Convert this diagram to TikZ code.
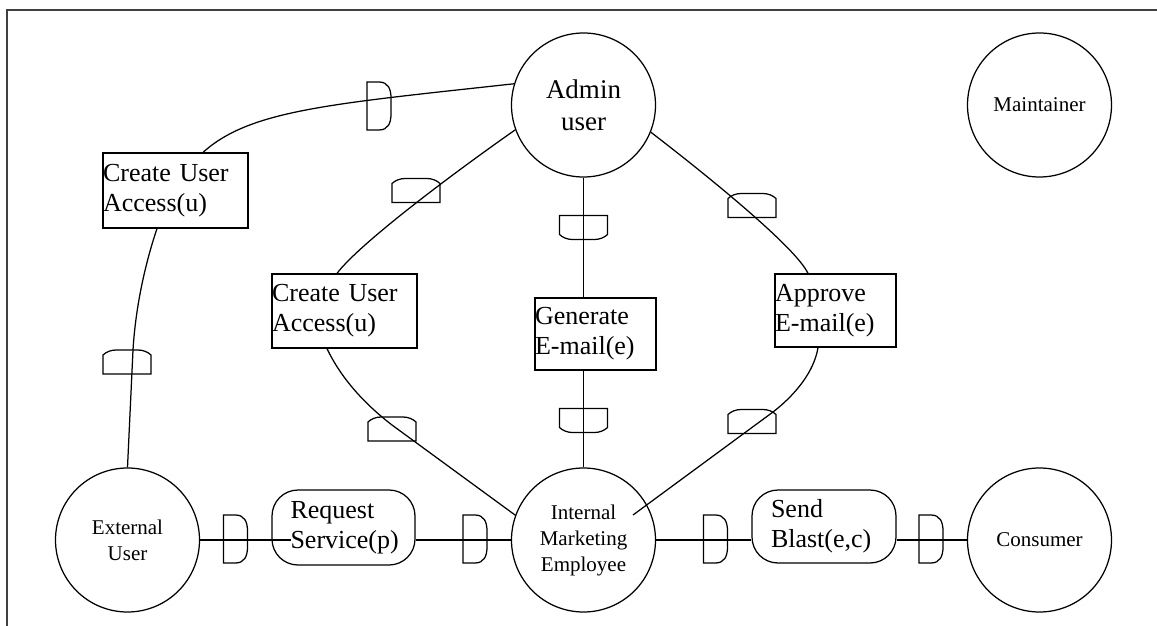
\documentclass[tikz,border=0pt]{standalone}
\usepackage{fontspec}
\setmainfont{Liberation Serif}

\tikzset{
  % D-shaped port: flat side left, rounded side right (length 48, depth 24)
  tokD/.pic={\draw (-12,-24) -- (0,-24) .. controls (9,-24) and (12,-17) .. (12,-8)
     -- (12,8) .. controls (12,17) and (9,24) .. (0,24) -- (-12,24) -- cycle;},
  % shallow port: flat side left, slightly bulged side right
  tokL/.pic={\draw (-12,-24) -- (7,-24) .. controls (10,-21) and (12,-16) .. (12,-11)
     -- (12,11) .. controls (12,16) and (10,21) .. (7,24) -- (-12,24) -- cycle;},
}

\begin{document}
\begin{tikzpicture}[x=1pt,y=-1pt,line width=1.25pt,
  actor/.style={draw, circle, minimum size=144pt, inner sep=0pt, align=center,
                font=\fontsize{21}{26}\selectfont},
  procbox/.style={draw, rectangle, inner sep=0pt, align=left,
                font=\fontsize{26}{30}\selectfont},
  svcbox/.style={draw, rounded corners=26pt, inner sep=0pt, align=left,
                font=\fontsize{26}{30}\selectfont},
  frame/.style={line width=1.6pt, black!75}]

\useasboundingbox (0,0) rectangle (1157,626);
\draw[frame] (7,626) -- (7,10) -- (1157,10);

% actors
\node[actor, font=\fontsize{27}{32}\selectfont] (admin) at (583.5,105) {Admin\\user};
\node[actor] (maint) at (1039.5,105) {Maintainer};
\node[actor] (ext)   at (127.5,540) {External\\User};
\node[actor] (ime)   at (583.5,540) {Internal\\Marketing\\Employee};
\node[actor] (cons)  at (1039.5,540) {Consumer};

% processes
\node[procbox, text width=145pt, minimum height=75pt] (cuaL) at (175.5,190.5) {Create User\\Access(u)};
\node[procbox, text width=145pt, minimum height=74pt] (cuaM) at (344.5,311) {Create User\\Access(u)};
\node[procbox, text width=121pt, minimum height=72pt] (gen)  at (595.5,334) {Generate\\E-mail(e)};
\node[procbox, text width=121pt, minimum height=73pt] (appr) at (835.5,310.5) {Approve\\E-mail(e)};

% services
\node[svcbox, text width=106pt, minimum width=143pt, minimum height=75pt] (req)  at (343.5,527.5) {Request\\Service(p)};
\node[svcbox, text width=106pt, minimum width=144pt, minimum height=73pt] (send) at (824,526.5) {Send\\Blast(e,c)};

% waypoints
\coordinate (w5) at (133,350);
\coordinate (w6) at (392,425);
\coordinate (w8) at (773,412);
\coordinate (reqIn) at (291,540);
\path (ime.center) ++(49.5,-25) coordinate (imeIn);

% connectors
\draw (admin.163) .. controls (330,104) and (250,110) .. ([xshift=27.5pt]cuaL.north);
\draw ([xshift=-18.5pt]cuaL.south) .. controls (148,255) and (136,300) .. (w5) -- (ext.north);
\draw (admin.200) .. controls (455,172) and (360,243) .. ([xshift=-7.5pt]cuaM.north);
\draw ([xshift=-17.5pt]cuaM.south) .. controls (340,376) and (362,402) .. (w6) -- (ime.160);
\draw (admin.south) -- (admin.south |- gen.north);
\draw (ime.north |- gen.south) -- (ime.north);
\draw (admin.338) .. controls (713,180) and (796,248) .. ([xshift=-27.5pt]appr.north);
\draw ([xshift=-17.5pt]appr.south) .. controls (814,372) and (795,395) .. (w8) -- (imeIn);
\draw (ext.east) -- (reqIn);
\draw (req.east |- ime.west) -- (ime.west);
\draw (ime.east) -- (send.west |- ime.east);
\draw (send.east |- cons.west) -- (cons.west);

% ports
\pic at (379,106) {tokD};
\pic[rotate=90]  at (416,190.5) {tokL};
\pic[rotate=-90] at (583.5,227.5) {tokL};
\pic[rotate=90]  at (752,205.5) {tokL};
\pic[rotate=90]  at (127,362) {tokL};
\pic[rotate=90]  at (392,429) {tokL};
\pic[rotate=-90] at (583.5,420.5) {tokL};
\pic[rotate=90]  at (752,421.5) {tokL};
\pic at (235.5,539) {tokD};
\pic at (475,539) {tokD};
\pic at (715.5,539) {tokD};
\pic at (931,539) {tokD};

\end{tikzpicture}
\end{document}
